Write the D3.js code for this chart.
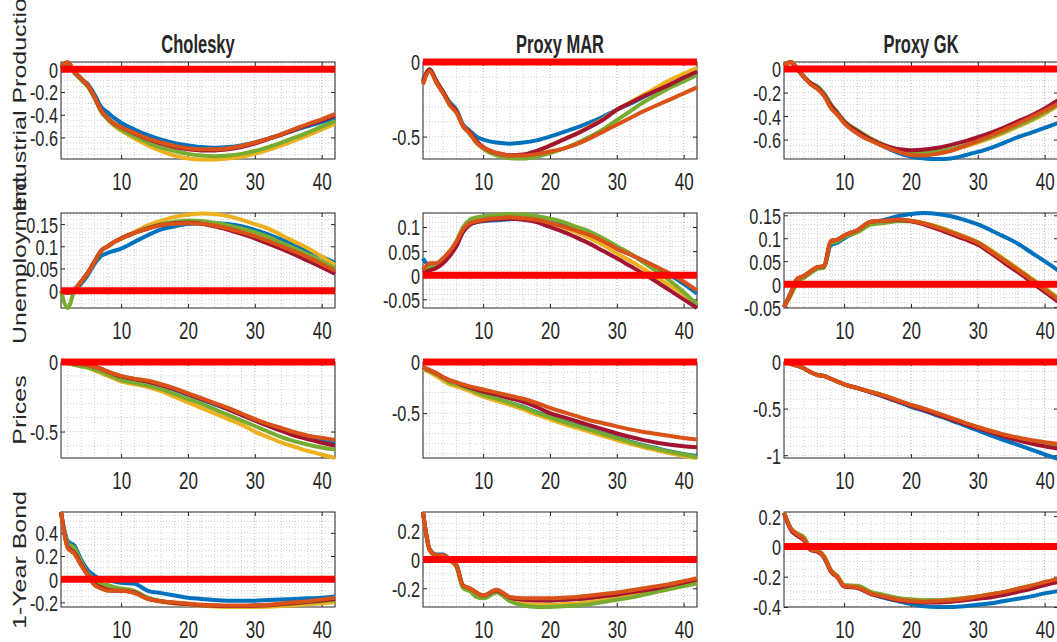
<!DOCTYPE html>
<html>
<head>
<meta charset="utf-8">
<script src="https://cdn.jsdelivr.net/npm/d3@7"></script>
<style>
body{margin:0;background:#fff;}
svg{display:block;}
text{font-family:"Liberation Sans",Arial,sans-serif;fill:#262626;}
</style>
</head>
<body>
<div id="chart"></div>
<script>
// horizons (months) at which the responses are read
const horizons = [1,2,3,4,5,6,7,8,9,10,12,14,16,18,20,22,24,26,28,30,32,34,36,38,40,42];

const variables = ["Industrial Production","Unemployment","Prices","1-Year Bond"];
const methods = ["Cholesky","Proxy MAR","Proxy GK"];

// each panel: [blue, orange, yellow, green, darkred]
const ipChol = [
  [0.01,0.05,-0.03,-0.09,-0.13,-0.22,-0.33,-0.38,-0.43,-0.47,-0.53,-0.58,-0.62,-0.65,-0.67,-0.685,-0.69,-0.685,-0.67,-0.645,-0.61,-0.575,-0.535,-0.5,-0.465,-0.43],
  [0.02,0.06,-0.02,-0.08,-0.14,-0.24,-0.36,-0.43,-0.48,-0.51,-0.56,-0.61,-0.645,-0.675,-0.695,-0.705,-0.705,-0.695,-0.675,-0.645,-0.61,-0.57,-0.525,-0.48,-0.44,-0.395],
  [0.02,0.06,-0.02,-0.09,-0.15,-0.25,-0.37,-0.44,-0.5,-0.54,-0.61,-0.67,-0.72,-0.76,-0.785,-0.795,-0.795,-0.785,-0.77,-0.745,-0.71,-0.67,-0.625,-0.58,-0.53,-0.48],
  [0.02,0.06,-0.02,-0.09,-0.15,-0.25,-0.37,-0.44,-0.49,-0.53,-0.59,-0.645,-0.69,-0.72,-0.745,-0.76,-0.765,-0.76,-0.745,-0.72,-0.685,-0.645,-0.6,-0.555,-0.505,-0.455],
  [0.02,0.06,-0.02,-0.08,-0.14,-0.24,-0.36,-0.43,-0.48,-0.51,-0.565,-0.615,-0.655,-0.685,-0.705,-0.715,-0.715,-0.705,-0.685,-0.655,-0.615,-0.575,-0.53,-0.49,-0.45,-0.41]
];
const ipMar = [
  [-0.12,-0.05,-0.13,-0.2,-0.27,-0.32,-0.42,-0.46,-0.5,-0.52,-0.54,-0.547,-0.54,-0.525,-0.5,-0.47,-0.44,-0.405,-0.365,-0.32,-0.28,-0.235,-0.19,-0.15,-0.11,-0.07],
  [-0.15,-0.06,-0.14,-0.21,-0.29,-0.34,-0.43,-0.48,-0.54,-0.575,-0.61,-0.627,-0.627,-0.617,-0.6,-0.58,-0.55,-0.51,-0.465,-0.42,-0.375,-0.33,-0.29,-0.25,-0.21,-0.17],
  [-0.14,-0.05,-0.13,-0.2,-0.28,-0.33,-0.43,-0.47,-0.53,-0.57,-0.61,-0.63,-0.63,-0.6,-0.56,-0.52,-0.48,-0.43,-0.38,-0.32,-0.27,-0.22,-0.17,-0.12,-0.08,-0.04],
  [-0.14,-0.05,-0.13,-0.2,-0.28,-0.33,-0.43,-0.48,-0.54,-0.58,-0.625,-0.645,-0.647,-0.635,-0.61,-0.58,-0.545,-0.5,-0.45,-0.39,-0.33,-0.27,-0.22,-0.17,-0.13,-0.087],
  [-0.13,-0.05,-0.13,-0.2,-0.28,-0.33,-0.43,-0.47,-0.53,-0.57,-0.61,-0.625,-0.62,-0.595,-0.56,-0.52,-0.48,-0.435,-0.385,-0.32,-0.275,-0.23,-0.19,-0.15,-0.105,-0.065]
];
const ipGk = [
  [0.03,0.06,0.0,-0.07,-0.12,-0.15,-0.21,-0.3,-0.37,-0.44,-0.53,-0.6,-0.66,-0.71,-0.745,-0.76,-0.765,-0.76,-0.735,-0.705,-0.67,-0.625,-0.58,-0.54,-0.5,-0.46],
  [0.03,0.06,0.0,-0.07,-0.13,-0.17,-0.23,-0.33,-0.39,-0.46,-0.55,-0.61,-0.66,-0.7,-0.73,-0.735,-0.72,-0.695,-0.655,-0.61,-0.565,-0.515,-0.465,-0.41,-0.355,-0.295],
  [0.03,0.06,0.0,-0.07,-0.13,-0.16,-0.22,-0.32,-0.38,-0.45,-0.54,-0.6,-0.65,-0.685,-0.71,-0.715,-0.71,-0.69,-0.66,-0.625,-0.585,-0.54,-0.49,-0.44,-0.38,-0.31],
  [0.03,0.06,0.0,-0.06,-0.12,-0.15,-0.21,-0.3,-0.37,-0.44,-0.52,-0.59,-0.645,-0.685,-0.705,-0.71,-0.7,-0.68,-0.65,-0.615,-0.575,-0.53,-0.48,-0.43,-0.37,-0.305],
  [0.03,0.06,0.0,-0.07,-0.12,-0.16,-0.22,-0.31,-0.38,-0.45,-0.53,-0.6,-0.65,-0.68,-0.69,-0.685,-0.67,-0.645,-0.615,-0.58,-0.54,-0.495,-0.445,-0.395,-0.335,-0.265]
];
const unChol = [
  [0.0,-0.005,0.0,0.015,0.035,0.06,0.078,0.085,0.09,0.095,0.11,0.125,0.138,0.145,0.15,0.152,0.152,0.15,0.145,0.137,0.127,0.115,0.103,0.09,0.077,0.063],
  [0.0,-0.005,0.002,0.02,0.04,0.065,0.09,0.1,0.11,0.117,0.13,0.14,0.148,0.151,0.152,0.151,0.147,0.14,0.132,0.123,0.112,0.1,0.088,0.075,0.06,0.045],
  [0.0,-0.005,0.002,0.02,0.04,0.065,0.09,0.1,0.11,0.118,0.132,0.147,0.158,0.166,0.171,0.174,0.173,0.168,0.16,0.15,0.14,0.125,0.11,0.095,0.077,0.058],
  [0.0,-0.039,0.0,0.02,0.04,0.065,0.09,0.1,0.11,0.117,0.13,0.142,0.15,0.155,0.158,0.157,0.153,0.147,0.14,0.132,0.121,0.108,0.095,0.081,0.066,0.05],
  [0.0,-0.005,0.002,0.02,0.04,0.065,0.09,0.1,0.11,0.118,0.13,0.14,0.148,0.152,0.153,0.151,0.145,0.137,0.128,0.118,0.106,0.094,0.081,0.067,0.053,0.038]
];
const unMar = [
  [0.035,0.02,0.022,0.03,0.045,0.065,0.09,0.105,0.11,0.112,0.114,0.116,0.118,0.118,0.112,0.105,0.097,0.088,0.074,0.055,0.043,0.03,0.015,0.0,-0.018,-0.038],
  [0.01,0.025,0.025,0.035,0.05,0.07,0.095,0.108,0.112,0.115,0.118,0.12,0.118,0.115,0.108,0.101,0.092,0.083,0.07,0.055,0.043,0.03,0.017,0.003,-0.013,-0.032],
  [0.01,0.015,0.02,0.032,0.048,0.068,0.095,0.108,0.112,0.115,0.12,0.122,0.12,0.115,0.108,0.099,0.088,0.076,0.062,0.045,0.03,0.013,-0.005,-0.022,-0.04,-0.06],
  [0.01,0.015,0.02,0.032,0.048,0.07,0.1,0.115,0.12,0.122,0.125,0.127,0.126,0.123,0.117,0.11,0.1,0.09,0.076,0.06,0.045,0.026,0.008,-0.012,-0.035,-0.062],
  [0.005,0.01,0.015,0.025,0.04,0.06,0.09,0.105,0.11,0.113,0.116,0.117,0.115,0.11,0.1,0.09,0.078,0.065,0.05,0.035,0.019,0.003,-0.014,-0.032,-0.05,-0.068]
];
const unGk = [
  [-0.05,-0.02,0.01,0.017,0.027,0.036,0.038,0.085,0.09,0.1,0.115,0.134,0.14,0.148,0.153,0.155,0.153,0.148,0.14,0.13,0.117,0.103,0.088,0.069,0.05,0.03],
  [-0.05,-0.02,0.012,0.018,0.028,0.037,0.039,0.094,0.097,0.106,0.118,0.136,0.138,0.141,0.138,0.132,0.123,0.113,0.102,0.09,0.071,0.051,0.031,0.01,-0.012,-0.033],
  [-0.05,-0.02,0.01,0.018,0.028,0.037,0.039,0.093,0.096,0.105,0.117,0.135,0.137,0.14,0.138,0.133,0.125,0.115,0.104,0.092,0.074,0.054,0.034,0.013,-0.008,-0.03],
  [-0.05,-0.025,0.004,0.014,0.024,0.033,0.036,0.09,0.093,0.103,0.113,0.13,0.133,0.137,0.137,0.132,0.124,0.114,0.103,0.091,0.072,0.052,0.032,0.011,-0.01,-0.032],
  [-0.05,-0.02,0.012,0.018,0.028,0.037,0.039,0.094,0.097,0.106,0.118,0.136,0.138,0.14,0.137,0.13,0.12,0.109,0.098,0.086,0.067,0.046,0.026,0.005,-0.017,-0.038]
];
const pChol = [
  [0,-0.005,-0.01,-0.015,-0.02,-0.035,-0.05,-0.07,-0.09,-0.105,-0.125,-0.145,-0.17,-0.2,-0.235,-0.27,-0.305,-0.34,-0.38,-0.42,-0.455,-0.49,-0.52,-0.545,-0.565,-0.58],
  [0,-0.005,-0.01,-0.015,-0.02,-0.035,-0.05,-0.07,-0.085,-0.1,-0.12,-0.135,-0.16,-0.19,-0.225,-0.26,-0.295,-0.33,-0.37,-0.41,-0.445,-0.475,-0.505,-0.53,-0.545,-0.56],
  [0,-0.01,-0.02,-0.03,-0.04,-0.06,-0.08,-0.1,-0.12,-0.14,-0.16,-0.18,-0.21,-0.25,-0.29,-0.33,-0.37,-0.41,-0.45,-0.5,-0.54,-0.58,-0.61,-0.64,-0.665,-0.69],
  [0,-0.01,-0.02,-0.03,-0.04,-0.055,-0.07,-0.09,-0.11,-0.13,-0.15,-0.17,-0.195,-0.23,-0.265,-0.3,-0.34,-0.38,-0.42,-0.46,-0.5,-0.54,-0.57,-0.595,-0.615,-0.63],
  [0,-0.005,-0.01,-0.015,-0.02,-0.035,-0.05,-0.07,-0.088,-0.103,-0.123,-0.14,-0.165,-0.195,-0.23,-0.265,-0.3,-0.34,-0.38,-0.42,-0.46,-0.495,-0.53,-0.555,-0.58,-0.6]
];
const pMar = [
  [-0.06,-0.09,-0.12,-0.16,-0.2,-0.22,-0.24,-0.265,-0.295,-0.32,-0.36,-0.4,-0.44,-0.49,-0.535,-0.58,-0.62,-0.66,-0.7,-0.74,-0.78,-0.815,-0.845,-0.875,-0.9,-0.92],
  [-0.05,-0.08,-0.11,-0.15,-0.18,-0.2,-0.22,-0.24,-0.255,-0.27,-0.3,-0.33,-0.36,-0.4,-0.45,-0.49,-0.53,-0.57,-0.6,-0.63,-0.66,-0.685,-0.705,-0.725,-0.745,-0.76],
  [-0.07,-0.1,-0.14,-0.18,-0.22,-0.24,-0.26,-0.285,-0.315,-0.34,-0.38,-0.42,-0.465,-0.515,-0.56,-0.605,-0.645,-0.685,-0.725,-0.765,-0.8,-0.835,-0.865,-0.895,-0.92,-0.94],
  [-0.06,-0.09,-0.12,-0.16,-0.2,-0.22,-0.24,-0.265,-0.295,-0.32,-0.36,-0.4,-0.445,-0.495,-0.54,-0.585,-0.625,-0.665,-0.705,-0.745,-0.785,-0.82,-0.85,-0.88,-0.905,-0.93],
  [-0.05,-0.08,-0.11,-0.15,-0.18,-0.2,-0.23,-0.25,-0.27,-0.29,-0.32,-0.355,-0.39,-0.44,-0.5,-0.54,-0.58,-0.62,-0.66,-0.7,-0.735,-0.765,-0.79,-0.81,-0.825,-0.835]
];
const pGk = [
  [0,-0.02,-0.04,-0.07,-0.11,-0.14,-0.15,-0.18,-0.21,-0.24,-0.28,-0.325,-0.375,-0.425,-0.48,-0.525,-0.575,-0.625,-0.68,-0.735,-0.79,-0.84,-0.89,-0.94,-0.99,-1.04],
  [0,-0.02,-0.04,-0.07,-0.11,-0.14,-0.15,-0.18,-0.21,-0.24,-0.28,-0.32,-0.36,-0.41,-0.46,-0.5,-0.55,-0.6,-0.65,-0.7,-0.74,-0.78,-0.81,-0.84,-0.86,-0.88],
  [0,-0.02,-0.04,-0.07,-0.11,-0.14,-0.15,-0.18,-0.21,-0.24,-0.28,-0.32,-0.36,-0.41,-0.46,-0.505,-0.555,-0.605,-0.655,-0.7,-0.745,-0.785,-0.82,-0.85,-0.875,-0.895],
  [0,-0.02,-0.04,-0.07,-0.11,-0.14,-0.15,-0.18,-0.21,-0.24,-0.28,-0.32,-0.365,-0.415,-0.465,-0.51,-0.56,-0.61,-0.655,-0.7,-0.745,-0.785,-0.82,-0.85,-0.875,-0.9],
  [0,-0.02,-0.04,-0.07,-0.11,-0.14,-0.15,-0.18,-0.21,-0.24,-0.28,-0.325,-0.37,-0.42,-0.47,-0.515,-0.565,-0.615,-0.665,-0.71,-0.755,-0.8,-0.84,-0.875,-0.905,-0.93]
];
const bChol = [
  [0.58,0.33,0.29,0.17,0.08,0.03,0.0,-0.01,-0.02,-0.03,-0.04,-0.1,-0.12,-0.14,-0.16,-0.17,-0.18,-0.185,-0.185,-0.185,-0.18,-0.175,-0.17,-0.165,-0.16,-0.15],
  [0.58,0.27,0.22,0.12,0.03,-0.05,-0.08,-0.1,-0.1,-0.1,-0.12,-0.17,-0.19,-0.2,-0.21,-0.22,-0.225,-0.228,-0.228,-0.225,-0.22,-0.21,-0.2,-0.19,-0.175,-0.16],
  [0.58,0.3,0.26,0.15,0.05,-0.02,-0.06,-0.08,-0.09,-0.09,-0.11,-0.17,-0.195,-0.21,-0.22,-0.23,-0.235,-0.24,-0.24,-0.24,-0.237,-0.232,-0.225,-0.217,-0.208,-0.2],
  [0.58,0.31,0.27,0.15,0.05,0.0,-0.04,-0.05,-0.07,-0.08,-0.1,-0.16,-0.19,-0.205,-0.215,-0.225,-0.23,-0.232,-0.232,-0.23,-0.225,-0.218,-0.21,-0.2,-0.19,-0.18],
  [0.58,0.28,0.23,0.13,0.04,-0.04,-0.07,-0.09,-0.1,-0.1,-0.115,-0.17,-0.19,-0.205,-0.215,-0.225,-0.23,-0.232,-0.232,-0.23,-0.225,-0.215,-0.205,-0.195,-0.183,-0.17]
];
const bMar = [
  [0.33,0.07,0.035,0.035,0.0,-0.04,-0.19,-0.21,-0.24,-0.26,-0.22,-0.265,-0.275,-0.28,-0.285,-0.28,-0.275,-0.27,-0.26,-0.25,-0.235,-0.22,-0.205,-0.185,-0.165,-0.145],
  [0.33,0.07,0.03,0.03,0.0,-0.04,-0.18,-0.2,-0.23,-0.25,-0.21,-0.26,-0.27,-0.27,-0.27,-0.265,-0.26,-0.25,-0.24,-0.23,-0.215,-0.2,-0.185,-0.17,-0.15,-0.13],
  [0.33,0.06,0.025,0.025,-0.01,-0.05,-0.19,-0.21,-0.25,-0.265,-0.225,-0.28,-0.305,-0.315,-0.315,-0.31,-0.305,-0.295,-0.28,-0.265,-0.25,-0.235,-0.215,-0.195,-0.175,-0.155],
  [0.33,0.07,0.03,0.03,-0.005,-0.05,-0.2,-0.22,-0.26,-0.27,-0.23,-0.29,-0.32,-0.33,-0.33,-0.325,-0.32,-0.31,-0.295,-0.28,-0.265,-0.245,-0.225,-0.205,-0.185,-0.165],
  [0.33,0.07,0.03,0.03,0.0,-0.04,-0.18,-0.2,-0.23,-0.25,-0.215,-0.265,-0.28,-0.285,-0.285,-0.28,-0.275,-0.265,-0.255,-0.245,-0.23,-0.215,-0.2,-0.18,-0.16,-0.14]
];
const bGk = [
  [0.22,0.12,0.08,0.05,-0.02,-0.03,-0.07,-0.16,-0.2,-0.26,-0.27,-0.31,-0.34,-0.36,-0.38,-0.395,-0.4,-0.4,-0.395,-0.385,-0.375,-0.36,-0.345,-0.33,-0.31,-0.295],
  [0.22,0.12,0.08,0.05,-0.02,-0.03,-0.07,-0.16,-0.2,-0.26,-0.27,-0.31,-0.33,-0.35,-0.36,-0.365,-0.36,-0.355,-0.345,-0.33,-0.315,-0.3,-0.28,-0.26,-0.235,-0.215],
  [0.22,0.12,0.08,0.05,-0.02,-0.03,-0.07,-0.16,-0.2,-0.26,-0.27,-0.31,-0.33,-0.345,-0.35,-0.355,-0.355,-0.35,-0.34,-0.33,-0.315,-0.3,-0.28,-0.26,-0.24,-0.22],
  [0.22,0.12,0.085,0.06,-0.015,-0.025,-0.065,-0.155,-0.195,-0.255,-0.26,-0.3,-0.32,-0.34,-0.35,-0.355,-0.355,-0.35,-0.34,-0.33,-0.315,-0.3,-0.28,-0.26,-0.24,-0.22],
  [0.22,0.11,0.07,0.04,-0.025,-0.035,-0.075,-0.165,-0.205,-0.265,-0.275,-0.315,-0.335,-0.355,-0.365,-0.37,-0.37,-0.365,-0.355,-0.345,-0.335,-0.32,-0.3,-0.28,-0.255,-0.235]
];

const panelData = [
  [ipChol, ipMar, ipGk],
  [unChol, unMar, unGk],
  [pChol, pMar, pGk],
  [bChol, bMar, bGk]
];

// y limits and tick labels per panel
const yLimits = [
  [[-0.79,0.065],[-0.65,0.0],[-0.765,0.06]],
  [[-0.039,0.175],[-0.068,0.129],[-0.052,0.155]],
  [[-0.69,0.0],[-0.94,0.0],[-1.03,0.0]],
  [[-0.24,0.58],[-0.33,0.33],[-0.4,0.227]]
];
const yTicks = [
  [[-0.6,-0.4,-0.2,0],[-0.5,0],[-0.6,-0.4,-0.2,0]],
  [[0,0.05,0.1,0.15],[-0.05,0,0.05,0.1],[-0.05,0,0.05,0.1,0.15]],
  [[-0.5,0],[-0.5,0],[-1,-0.5,0]],
  [[-0.2,0,0.2,0.4],[-0.2,0,0.2],[-0.4,-0.2,0,0.2]]
];
const xTicks = [10,20,30,40];
const zeroLine = [0,0];

const colors = ["#0072BD","#D95319","#EDB120","#77AC30","#A2142F"];
const drawOrder = [0,2,3,4,1];

const width = 1057, height = 642;
const colLeft = [61,423,784], plotW = 274;
const rowTop = [62,213,362,512], rowH = [97,95,96,95];
const labelMid = [98,260,410,560];
const sx = 0.74; // horizontal squeeze of the text

const svg = d3.select("#chart").append("svg")
  .attr("width",width)
  .attr("height",height);

const fmt = d => d === 0 ? "0" : String(d);

for(let r=0;r<4;r++){
  for(let c=0;c<3;c++){
    let w = plotW, h = rowH[r];
    let g = svg.append("g").attr("transform",`translate(${colLeft[c]},${rowTop[r]})`);
    let x = d3.scaleLinear().domain([1,42]).range([0,w]);
    let y = d3.scaleLinear().domain(yLimits[r][c]).range([h,0]);

    g.append("rect").attr("width",w).attr("height",h).attr("fill","#fff");

    // grid (minor + major, dotted like matlab)
    let ticks = yTicks[r][c];
    let step = ticks[1]-ticks[0];
    let minorStep = Math.abs(step-0.2)<1e-9 ? 0.05 : step/5;
    let [y0,y1] = yLimits[r][c];
    let ym = d3.range(Math.ceil(y0/minorStep-1e-6), Math.floor(y1/minorStep+1e-6)+1).map(k=>k*minorStep);
    let xm = d3.range(2,43,2);
    g.append("g").selectAll("line").data(xm).join("line")
      .attr("x1",d=>x(d)).attr("x2",d=>x(d)).attr("y1",0).attr("y2",h)
      .attr("stroke",d=>d%10===0?"#b4b4b4":"#cfcfcf").attr("stroke-width",1)
      .attr("stroke-dasharray","1,2");
    g.append("g").selectAll("line").data(ym).join("line")
      .attr("x1",0).attr("x2",w).attr("y1",d=>y(d)).attr("y2",d=>y(d))
      .attr("stroke","#cfcfcf").attr("stroke-width",1)
      .attr("stroke-dasharray","1,2");

    // axes with inward ticks on all four sides
    let ax = g.append("g").attr("transform",`translate(0,${h})`)
      .call(d3.axisBottom(x).tickValues(xTicks).tickSize(-4).tickFormat(fmt));
    g.append("g").call(d3.axisTop(x).tickValues(xTicks).tickSize(-4).tickFormat(""));
    let ay = g.append("g")
      .call(d3.axisLeft(y).tickValues(ticks).tickSize(-4).tickFormat(fmt));
    g.append("g").attr("transform",`translate(${w},0)`)
      .call(d3.axisRight(y).tickValues(ticks).tickSize(-4).tickFormat(""));
    g.selectAll(".domain").remove();
    g.selectAll(".tick line").attr("stroke","#262626");

    ax.selectAll("text")
      .attr("y",31).attr("dy",null)
      .attr("transform",`scale(${sx},1)`)
      .style("font-size","23px").style("font-family","'Liberation Sans',Arial,sans-serif")
      .attr("fill","#262626");
    ay.selectAll("text")
      .attr("x",-3/sx).attr("dy","0.36em")
      .attr("transform",`scale(${sx},1)`)
      .style("font-size","22px").style("font-family","'Liberation Sans',Arial,sans-serif")
      .attr("fill","#262626");

    g.append("rect").attr("width",w).attr("height",h)
      .attr("fill","none").attr("stroke","#262626").attr("stroke-width",1);

    // responses
    let line = d3.line()
      .x((d,i)=>x(horizons[i]))
      .y(d=>y(d))
      .curve(d3.curveMonotoneX);
    let series = panelData[r][c];
    for(let k of drawOrder){
      g.append("path").datum(series[k])
        .attr("d",line)
        .attr("fill","none")
        .attr("stroke",colors[k])
        .attr("stroke-width",4)
        .attr("stroke-linejoin","round");
    }

    // zero reference
    g.append("path").datum(zeroLine)
      .attr("d",d3.line().x((d,i)=>x(i===0?1:42)).y(d=>y(d)))
      .attr("stroke","#ff0000").attr("stroke-width",7).attr("fill","none");

    if(r===0){
      svg.append("text")
        .attr("transform",`translate(${colLeft[c]+w/2},53) scale(0.66,1)`)
        .attr("text-anchor","middle")
        .style("font-size","25px").style("font-weight","bold")
        .attr("fill","#111")
        .text(methods[c]);
    }
    if(c===0){
      svg.append("text")
        .attr("transform",`translate(26,${labelMid[r]}) rotate(-90) scale(1,0.76)`)
        .attr("text-anchor","middle")
        .style("font-size","25px")
        .attr("fill","#262626")
        .text(variables[r]);
    }
  }
}
</script>
</body>
</html>
